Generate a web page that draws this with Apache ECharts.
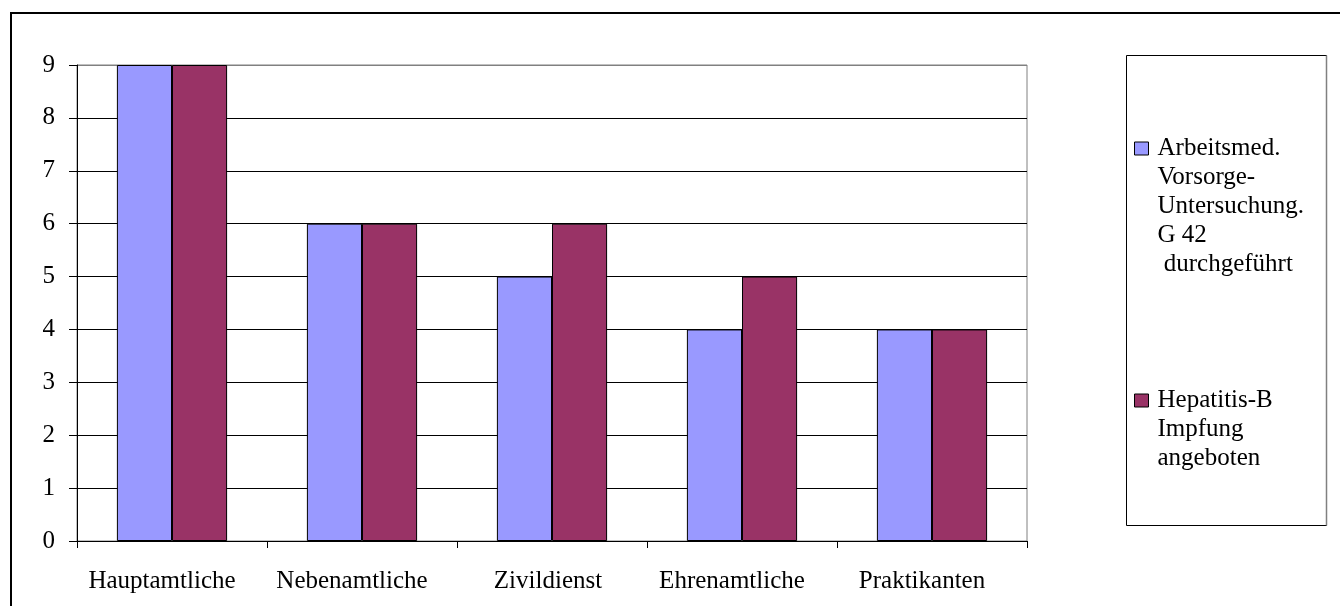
<!DOCTYPE html>
<html>
<head>
<meta charset="utf-8">
<script src="https://cdn.jsdelivr.net/npm/echarts@6/dist/echarts.min.js"></script>
<style>
  html, body { margin: 0; padding: 0; background: #fff; }
  #chart { width: 1340px; height: 606px; }
</style>
</head>
<body>
<div id="chart"></div>
<script>
// Personnel groups on the category axis
const categories = ['Hauptamtliche', 'Nebenamtliche', 'Zivildienst', 'Ehrenamtliche', 'Praktikanten'];
// Series names (line breaks as they appear in the legend)
const nameVorsorge = 'Arbeitsmed.\nVorsorge-\nUntersuchung.\nG 42\n durchgeführt';
const nameHepatitis = 'Hepatitis-B\nImpfung\nangeboten';
// Counts per group
const vorsorge = [9, 6, 5, 4, 4];
const hepatitis = [9, 6, 6, 5, 4];
// Value axis range
const yMin = 0, yMax = 9, yStep = 1;

const FONT = '"Liberation Serif", "Times New Roman", serif';
const FS = 25;
const LINE_H = 29;

const chart = echarts.init(document.getElementById('chart'), null, { renderer: 'canvas' });

// Grid lines are black, the top one is the grey plot frame
const splitColors = [];
for (let v = yMin; v <= yMax; v += yStep) splitColors.push(v === yMax ? '#808080' : '#000');

// Legend text is centred on its marker; leading blank lines put the first
// line of a multi-line name level with the marker.
function legendFor(name, top) {
  const n = name.split('\n').length;
  return {
    data: [name],
    orient: 'vertical',
    left: 1134,
    top: top,
    padding: 0,
    itemWidth: 14,
    itemHeight: 13,
    icon: 'rect',
    selectedMode: false,
    itemStyle: { borderColor: '#000', borderWidth: 1 },
    formatter: (s) => '\n'.repeat(n - 1) +
      s.split('\n').map((l) => '{t|' + l + '}').join('\n'),
    textStyle: {
      fontFamily: FONT,
      fontSize: FS,
      lineHeight: LINE_H,
      color: '#000',
      rich: {
        t: { fontFamily: FONT, fontSize: FS, lineHeight: LINE_H, color: '#000', padding: [0, 0, 0, 4] }
      }
    }
  };
}

// Category labels sit a little left of the band centre; the short
// "Zivildienst" label less so.
const labelRich = {
  w: { fontFamily: FONT, fontSize: FS, color: '#000', padding: [0, 20, 0, 0] },
  s: { fontFamily: FONT, fontSize: FS, color: '#000', padding: [0, 8, 0, 0] }
};

chart.setOption({
  animation: false,
  backgroundColor: '#fff',
  textStyle: { fontFamily: FONT },
  grid: {
    left: 77, right: 313, top: 65, bottom: 65,
    show: true, borderColor: '#808080', borderWidth: 1, backgroundColor: '#fff'
  },
  legend: [
    legendFor(nameVorsorge, 18),
    legendFor(nameHepatitis, 328)
  ],
  xAxis: {
    type: 'category',
    data: categories,
    axisLine: { lineStyle: { color: '#000', width: 1 } },
    axisTick: { show: true, interval: 0, length: 7, lineStyle: { color: '#000' } },
    axisLabel: {
      interval: 0, color: '#000', fontSize: FS, fontFamily: FONT, margin: 28,
      formatter: (v) => (v === 'Zivildienst' ? '{s|' : '{w|') + v + '}',
      rich: labelRich
    }
  },
  yAxis: {
    type: 'value',
    min: yMin, max: yMax, interval: yStep,
    axisLine: { show: true, lineStyle: { color: '#000', width: 1 } },
    axisTick: { show: true, length: 8, lineStyle: { color: '#000' } },
    axisLabel: { color: '#000', fontSize: FS, fontFamily: FONT, margin: 22 },
    splitLine: { show: true, lineStyle: { color: splitColors, width: 1 } }
  },
  series: [
    {
      name: nameVorsorge, type: 'bar', data: vorsorge,
      barGap: '0%', barCategoryGap: '42%',
      itemStyle: { color: '#9999FF', borderColor: '#000', borderWidth: 1 }
    },
    {
      name: nameHepatitis, type: 'bar', data: hepatitis,
      itemStyle: { color: '#993366', borderColor: '#000', borderWidth: 1 }
    }
  ],
  graphic: [
    // outer chart frame
    { type: 'rect', z: 100, silent: true,
      shape: { x: 11, y: 13, width: 1400, height: 700 },
      style: { fill: 'none', stroke: '#000', lineWidth: 2 } },
    // legend frame
    { type: 'rect', z: 100, silent: true,
      shape: { x: 1126.5, y: 55.5, width: 200, height: 470 },
      style: { fill: 'none', stroke: '#000', lineWidth: 1 } },
    { type: 'line', z: 101, silent: true,
      shape: { x1: 1326.5, y1: 55.5, x2: 1326.5, y2: 525.5 },
      style: { stroke: '#808080', lineWidth: 1.5 } }
  ]
});
</script>
</body>
</html>
